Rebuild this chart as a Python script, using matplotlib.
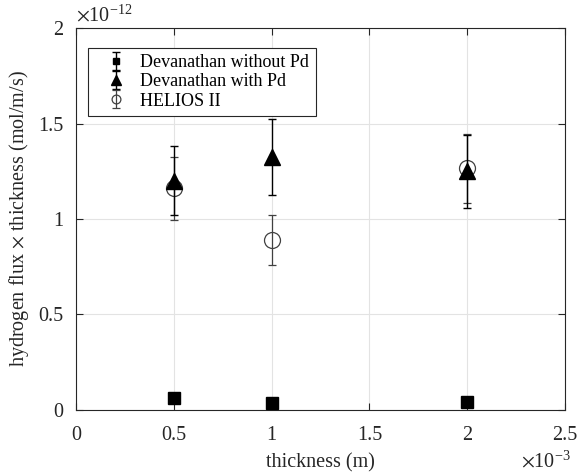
import numpy as np
import matplotlib.pyplot as plt
from matplotlib.ticker import FuncFormatter

# Data (thickness in m, flux*thickness in mol/m/s)
thickness = [0.5e-3, 1.0e-3, 2.0e-3]

dev_no_pd = [0.064e-12, 0.035e-12, 0.040e-12]
dev_no_pd_err = [0.008e-12, 0.006e-12, 0.006e-12]

dev_pd = [1.20e-12, 1.325e-12, 1.25e-12]
dev_pd_err = [0.18e-12, 0.20e-12, 0.19e-12]

helios = [1.16e-12, 0.89e-12, 1.265e-12]
helios_err = [0.165e-12, 0.133e-12, 0.18e-12]

x_ticks = [0, 0.5e-3, 1.0e-3, 1.5e-3, 2.0e-3, 2.5e-3]
y_ticks = [0, 0.5e-12, 1.0e-12, 1.5e-12, 2.0e-12]

plt.rcParams['font.family'] = ['Liberation Serif', 'DejaVu Serif']
plt.rcParams['mathtext.fontset'] = 'stix'

fig = plt.figure(figsize=(5.77, 4.73), dpi=100)
ax = fig.add_axes([0.1317, 0.1332, 0.9792 - 0.1317, 0.9408 - 0.1332])

dark = '#262626'
ax.errorbar(thickness, dev_no_pd, yerr=dev_no_pd_err, fmt='s', color='k',
            ms=8.6, capsize=3.2, elinewidth=1.0, capthick=1.0,
            label='Devanathan without Pd', zorder=3)
ax.errorbar(thickness, dev_pd, yerr=dev_pd_err, fmt='^', color='k',
            ms=12, capsize=3.2, elinewidth=1.0, capthick=1.0,
            label='Devanathan with Pd', zorder=3)
ax.errorbar(thickness, helios, yerr=helios_err, fmt='o', color='#404040',
            mfc='none', mec='#404040', ms=11.5, mew=0.9, capsize=3.2,
            elinewidth=0.9, capthick=0.9, label='HELIOS II', zorder=2)

ax.set_xlim(0, 2.5e-3)
ax.set_ylim(0, 2e-12)
ax.set_xticks(x_ticks)
ax.set_yticks(y_ticks)
ax.xaxis.set_major_formatter(FuncFormatter(lambda v, p: '{:g}'.format(round(v * 1e3, 6))))
ax.yaxis.set_major_formatter(FuncFormatter(lambda v, p: '{:g}'.format(round(v * 1e12, 6))))

ax.grid(True, color='#e3e3e3', linewidth=0.8)
ax.set_axisbelow(True)
ax.tick_params(direction='in', top=True, right=True, length=5, width=0.8,
               colors=dark, labelsize=14.5)
ax.tick_params(axis='x', pad=11.5)
ax.tick_params(axis='y', pad=9)
for s in ax.spines.values():
    s.set_color(dark)
    s.set_linewidth(0.8)

ax.set_xlabel('thickness (m)', fontsize=14.5, color=dark, labelpad=6)
ax.set_ylabel(r'hydrogen flux $\times$ thickness (mol/m/s)', fontsize=14.5,
              color=dark, labelpad=5)

# Multiplier labels, MATLAB style
ax.text(0.0, 1.005, r'$\times\mathregular{10^{-12}}$', transform=ax.transAxes,
        fontsize=14.5, color=dark, ha='left', va='bottom')
ax.text(1.012, -0.135, r'$\times\mathregular{10^{-3}}$', transform=ax.transAxes,
        fontsize=14.5, color=dark, ha='right', va='center')

leg = ax.legend(loc='upper left', bbox_to_anchor=(0.0245, 0.948), fontsize=13,
                frameon=True, fancybox=False, edgecolor=dark, framealpha=1,
                markerscale=0.55, handlelength=2.4, handletextpad=0.15,
                borderpad=0.35, labelspacing=0.12, borderaxespad=0)
leg.get_frame().set_linewidth(0.8)

fig.savefig('out.png', dpi=100)
